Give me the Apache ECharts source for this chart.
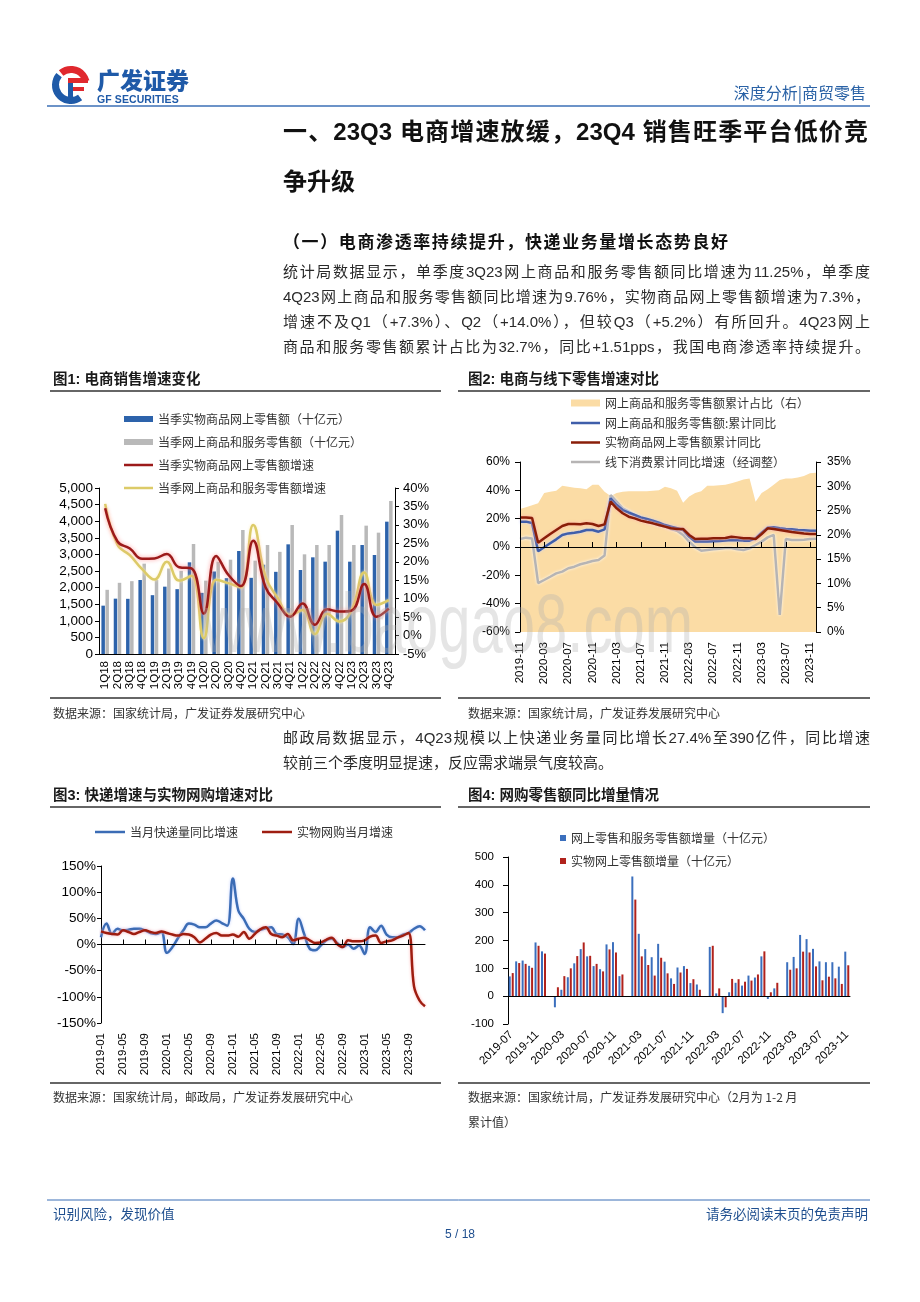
<!DOCTYPE html>
<html><head><meta charset="utf-8">
<script src="https://cdn.jsdelivr.net/npm/echarts@6/dist/echarts.min.js"></script>
<style>
html,body{margin:0;padding:0;background:#fff;}
#page{position:relative;width:920px;height:1302px;overflow:hidden;background:#fff;}
#chart{position:absolute;left:0;top:0;width:920px;height:1302px;}
.t{position:absolute;white-space:nowrap;font-family:"Liberation Sans","Noto Sans CJK SC",sans-serif;color:#222;}
.j{white-space:normal;text-align:justify;text-align-last:justify;}
</style></head>
<body><div id="page"><div id="chart"></div></div>
<script>
// ---------------- DATA ----------------
function months(y, m, n){const out=[];for(let i=0;i<n;i++){const k=m-1+i;out.push((y+Math.floor(k/12))+'-'+String(k%12+1).padStart(2,'0'));}return out;}
const quarters = [];
for (let y=18;y<=23;y++) for (let q=1;q<=4;q++) quarters.push(q+'Q'+y);

// Fig 1 (quarterly, 十亿元 / %)
const q1Physical = [1456,1667,1662,2229,1772,2028,1953,2761,1842,2485,2284,3102,2294,2690,2475,3303,2530,2912,2781,3715,2781,3283,2982,3986];
const q1Total    = [1933,2144,2194,2721,2234,2575,2505,3313,2209,2780,2841,3735,2811,3283,3077,3886,3002,3283,3283,4187,3283,3866,3655,4609];
const q1PhysGrowth  = [34.5,25.5,23.6,20.8,20.9,22.1,18.5,18.2,6.0,21.6,16.4,13.4,25.7,13.1,8.7,5.1,8.7,2.9,7.1,6.5,6.8,14.0,5.1,7.3];
const q1TotalGrowth = [35.7,24.6,21.8,18.0,15.2,20.0,14.9,16.2,-0.7,15.1,14.2,13.1,30.0,16.0,10.1,5.6,6.9,0.4,5.9,3.8,7.0,17.1,8.3,9.6];

// Fig 2 (monthly cumulative, %)
const months2 = months(2019,11,50);
const share2 = [25.3,25.7,26.1,26.5,28.6,28.9,29.1,30.1,29.9,29.7,29.6,29.4,30.3,30.3,28.9,28.0,28.6,28.9,29.0,29.0,29.0,29.0,29.1,29.2,29.9,29.6,29.1,26.6,27.9,28.6,29.0,30.1,30.1,30.2,30.3,30.6,31.0,31.4,31.6,26.8,28.6,29.4,30.3,31.3,31.6,31.6,31.8,32.1,32.7,32.8];
const online2 = [17.9,17.9,17.0,-3.0,-0.2,2.6,5.4,8.5,9.6,10.1,10.8,12.0,12.0,10.8,12.5,34.4,29.6,26.1,24.2,22.6,20.9,19.8,18.6,17.2,15.5,14.4,13.2,12.0,7.3,3.8,3.8,3.8,4.0,4.2,4.5,4.9,4.7,4.5,4.5,6.1,10.1,13.6,13.9,13.2,12.7,12.5,12.0,11.8,11.5,11.5];
const physical2 = [20.9,20.9,20.5,3.0,6.1,9.2,12.0,14.8,16.2,16.2,16.0,16.7,16.2,14.8,16.0,32.0,27.3,23.8,21.4,20.2,18.6,17.6,16.7,15.5,14.4,13.2,12.7,12.7,8.5,5.6,5.9,5.9,6.1,6.1,6.4,7.3,6.8,6.1,6.1,5.6,9.2,13.2,12.7,12.0,11.3,10.6,10.1,9.6,9.2,9.2];
const offline2 = [5.6,6.6,6.0,-25.5,-23.3,-21.0,-18.6,-17.4,-15.0,-13.9,-12.2,-11.1,-9.9,-9.2,-6.0,36.7,32.0,27.3,25.0,22.6,19.5,17.9,16.7,15.5,14.4,12.7,11.5,8.5,3.8,-0.2,-2.6,-2.1,-1.6,-1.2,-0.7,-0.7,-1.6,-2.1,-0.9,1.4,3.8,6.8,8.5,-48.0,5.6,4.9,4.9,5.2,5.6,5.9];

// Fig 3 (monthly, %)
const months3 = months(2019,1,60);
const express3 = [14,40,20,30,27,28,30,30,27,22,20,24,-16,-5,12,27,40,38,33,33,40,46,41,36,126,65,49,30,24,28,31,33,20,19,14,1,49,20,-8,-11,-2,8,11,3,-5,0,-8,-2,-18,33,24,36,19,14,14,19,22,30,35,27];
const onlineShop3 = [25,22,20,19,27,24,20,24,27,24,22,25,22,19,17,20,19,14,4,11,19,22,17,17,19,15,24,11,20,29,33,20,17,14,20,8,11,13,8,3,4,9,13,1,-5,8,6,6,8,15,17,3,6,8,13,17,22,-80,-107,-118];

// Fig 4 (monthly increment, 十亿元)
const months4 = months(2019,7,53);
const onlineInc4 = [71,125,128,109,193,161,null,-40,23,68,118,169,143,108,97,186,194,72,null,430,224,169,140,188,124,64,103,108,47,42,null,177,10,-61,14,48,38,74,67,143,-10,28,null,122,141,220,205,170,125,122,122,106,160];
const physInc4  = [83,119,116,102,181,153,null,32,72,100,144,193,145,116,89,168,157,78,null,347,143,112,74,138,82,44,85,98,61,23,null,181,28,-40,62,61,52,56,78,161,14,48,null,95,100,160,157,107,57,70,64,44,111];

// ---------------- CHART ----------------
const chart = echarts.init(document.getElementById('chart'), null, {renderer:'canvas'});
const AX = {color:'#000', width:1};
const lab = (size, extra) => Object.assign({color:'#000', fontSize:size, fontFamily:'"Liberation Sans",sans-serif'}, extra||{});
const legText = {fontSize:12, lineHeight:14, color:'#333', fontFamily:'"Noto Sans CJK SC",sans-serif'};
const thousands = v => String(v).replace(/\B(?=(\d{3})+(?!\d))/g, ',');
const pct = '{value}%';
const LG = {padding:0, selectedMode:false, textStyle:legText, icon:'rect'};

const option = {
  animation:false,
  textStyle:{fontFamily:'"Liberation Sans","Noto Sans CJK SC",sans-serif'},
  grid:[
    {left:99, top:488, width:296, height:166},
    {left:520, top:462, width:296, height:170},
    {left:101, top:866, width:324, height:157},
    {left:508, top:857, width:342, height:167}
  ],
  legend:[
    Object.assign({}, LG, {orient:'vertical', left:124, top:412, itemWidth:29, itemHeight:6, itemGap:9,
     data:['当季实物商品网上零售额（十亿元）','当季网上商品和服务零售额（十亿元）']}),
    Object.assign({}, LG, {orient:'vertical', left:124, top:458, itemWidth:29, itemHeight:2.5, itemGap:9,
     data:['当季实物商品网上零售额增速','当季网上商品和服务零售额增速']}),
    Object.assign({}, LG, {orient:'vertical', left:571, top:396, itemWidth:29, itemHeight:7,
     data:['网上商品和服务零售额累计占比（右）']}),
    Object.assign({}, LG, {orient:'vertical', left:571, top:416, itemWidth:29, itemHeight:2.5, itemGap:5.5,
     data:['网上商品和服务零售额:累计同比','实物商品网上零售额累计同比','线下消费累计同比增速（经调整）']}),
    Object.assign({}, LG, {left:95, top:825, itemWidth:30, itemHeight:2.5, data:['当月快递量同比增速']}),
    Object.assign({}, LG, {left:262, top:825, itemWidth:30, itemHeight:2.5, data:['实物网购当月增速']}),
    Object.assign({}, LG, {orient:'vertical', left:560, top:831, itemWidth:6, itemHeight:6, itemGap:9,
     data:['网上零售和服务零售额增量（十亿元）','实物网上零售额增量（十亿元）']})
  ],
  xAxis:[
    {gridIndex:0, type:'category', data:quarters, boundaryGap:true, axisLine:{onZero:false, lineStyle:AX},
     axisTick:{length:4, interval:0, lineStyle:AX}, axisLabel:lab(11.5,{rotate:90, interval:0, margin:7})},
    {gridIndex:1, type:'category', data:months2, boundaryGap:false, position:'bottom', axisLine:{show:false, onZero:false},
     axisTick:{show:false}, axisLabel:lab(11.5,{rotate:90, interval:3, margin:10})},
    {gridIndex:1, type:'category', data:months2, boundaryGap:false, z:10, axisLine:{onZero:true, onZeroAxisIndex:2, lineStyle:AX},
     axisTick:{interval:3, length:5, lineStyle:AX}, axisLabel:{show:false}},
    {gridIndex:2, type:'category', data:months3, boundaryGap:false, position:'bottom', axisLine:{show:false, onZero:false},
     axisTick:{show:false}, axisLabel:lab(11.5,{rotate:90, interval:3, margin:10})},
    {gridIndex:2, type:'category', data:months3, boundaryGap:false, z:10, axisLine:{onZero:true, onZeroAxisIndex:4, lineStyle:AX},
     axisTick:{interval:3, length:5, lineStyle:AX}, axisLabel:{show:false}},
    {gridIndex:3, type:'category', data:months4, boundaryGap:true, position:'bottom', axisLine:{show:false, onZero:false},
     axisTick:{show:false}, axisLabel:lab(11.5,{rotate:45, interval:3, margin:9})},
    {gridIndex:3, type:'category', data:months4, boundaryGap:true, z:10, axisLine:{onZero:true, onZeroAxisIndex:5, lineStyle:AX},
     axisTick:{interval:3, length:5, lineStyle:AX}, axisLabel:{show:false}}
  ],
  yAxis:[
    {gridIndex:0, type:'value', min:0, max:5000, interval:500, position:'left', axisLine:{show:true, lineStyle:AX},
     axisTick:{show:true, length:4, lineStyle:AX}, splitLine:{show:false}, axisLabel:lab(13.5,{formatter:thousands, margin:6})},
    {gridIndex:0, type:'value', min:-5, max:40, interval:5, position:'right', axisLine:{show:true, lineStyle:AX},
     axisTick:{show:true, length:4, lineStyle:AX}, splitLine:{show:false}, axisLabel:lab(13,{formatter:pct, margin:8})},
    {gridIndex:1, type:'value', min:-60, max:60, interval:20, position:'left', z:10, axisLine:{show:true, lineStyle:AX},
     axisTick:{show:true, length:5, lineStyle:AX}, splitLine:{show:false}, axisLabel:lab(12,{formatter:pct, margin:10})},
    {gridIndex:1, type:'value', min:0, max:35, interval:5, position:'right', z:10, axisLine:{show:true, lineStyle:AX},
     axisTick:{show:true, length:5, lineStyle:AX}, splitLine:{show:false}, axisLabel:lab(12,{formatter:pct, margin:11})},
    {gridIndex:2, type:'value', min:-150, max:150, interval:50, position:'left', axisLine:{show:true, lineStyle:AX},
     axisTick:{show:true, length:4, lineStyle:AX}, splitLine:{show:false}, axisLabel:lab(13.5,{formatter:pct, margin:5})},
    {gridIndex:3, type:'value', min:-100, max:500, interval:100, position:'left', axisLine:{show:true, lineStyle:AX},
     axisTick:{show:true, length:5, lineStyle:AX}, splitLine:{show:false}, axisLabel:lab(11.5,{margin:14})}
  ],
  series:[
    // Fig 1
    {name:'当季实物商品网上零售额（十亿元）', type:'bar', xAxisIndex:0, yAxisIndex:0, data:q1Physical, barWidth:3.5, barGap:'15%', itemStyle:{color:'#2d63ab'}},
    {name:'当季网上商品和服务零售额（十亿元）', type:'bar', xAxisIndex:0, yAxisIndex:0, data:q1Total, barWidth:3.5, barGap:'15%', itemStyle:{color:'#b9b9b9'}},
    {name:'当季网上商品和服务零售额增速', type:'line', xAxisIndex:0, yAxisIndex:1, data:q1TotalGrowth, smooth:0.45, symbol:'none',
     itemStyle:{color:'#dccb68'}, lineStyle:{width:2.5, color:'#dccb68', shadowBlur:3, shadowColor:'rgba(255,240,190,0.9)'}},
    {name:'当季实物商品网上零售额增速', type:'line', xAxisIndex:0, yAxisIndex:1, data:q1PhysGrowth, smooth:0.45, symbol:'none',
     itemStyle:{color:'#9c1a1a'}, lineStyle:{width:2.5, color:'#9c1a1a', shadowBlur:4, shadowColor:'rgba(255,150,150,0.9)'}},
    // Fig 2
    {name:'网上商品和服务零售额累计占比（右）', type:'line', xAxisIndex:1, yAxisIndex:3, data:share2, symbol:'none', z:1,
     itemStyle:{color:'#fbdca5'}, lineStyle:{width:0, color:'#fbdca5'}, areaStyle:{color:'#fbdca5', opacity:1}},
    {name:'线下消费累计同比增速（经调整）', type:'line', xAxisIndex:1, yAxisIndex:2, data:offline2, symbol:'none',
     itemStyle:{color:'#b6b4b4'}, lineStyle:{width:2.5, color:'#b6b4b4', shadowBlur:3, shadowColor:'rgba(255,255,255,0.9)'}},
    {name:'网上商品和服务零售额:累计同比', type:'line', xAxisIndex:1, yAxisIndex:2, data:online2, symbol:'none',
     itemStyle:{color:'#3f5eaa'}, lineStyle:{width:2.5, color:'#3f5eaa', shadowBlur:3, shadowColor:'rgba(200,210,255,0.9)'}},
    {name:'实物商品网上零售额累计同比', type:'line', xAxisIndex:1, yAxisIndex:2, data:physical2, symbol:'none',
     itemStyle:{color:'#8a1e08'}, lineStyle:{width:2.5, color:'#8a1e08', shadowBlur:3, shadowColor:'rgba(255,170,170,0.9)'}},
    // Fig 3
    {name:'当月快递量同比增速', type:'line', xAxisIndex:3, yAxisIndex:4, data:express3, smooth:0.4, symbol:'none',
     itemStyle:{color:'#3b6cb5'}, lineStyle:{width:2.5, color:'#3b6cb5', shadowBlur:3, shadowColor:'rgba(190,205,255,0.9)'}},
    {name:'实物网购当月增速', type:'line', xAxisIndex:3, yAxisIndex:4, data:onlineShop3, smooth:0.4, symbol:'none',
     itemStyle:{color:'#9e1d10'}, lineStyle:{width:2.5, color:'#9e1d10', shadowBlur:3, shadowColor:'rgba(255,170,170,0.9)'}},
    // Fig 4
    {name:'网上零售和服务零售额增量（十亿元）', type:'bar', xAxisIndex:5, yAxisIndex:5, data:onlineInc4, barWidth:2, barGap:'50%', itemStyle:{color:'#3b6fbd'}},
    {name:'实物网上零售额增量（十亿元）', type:'bar', xAxisIndex:5, yAxisIndex:5, data:physInc4, barWidth:2, barGap:'50%', itemStyle:{color:'#b1221c'}}
  ],
  graphic:{elements:[
    {type:'line', shape:{x1:47,y1:106,x2:870,y2:106}, style:{stroke:'#3b6fb6', lineWidth:1.5}},
    {type:'line', shape:{x1:50,y1:391,x2:441,y2:391}, style:{stroke:'#333', lineWidth:1.3}},
    {type:'line', shape:{x1:458,y1:391,x2:870,y2:391}, style:{stroke:'#333', lineWidth:1.3}},
    {type:'line', shape:{x1:50,y1:698,x2:441,y2:698}, style:{stroke:'#333', lineWidth:1.3}},
    {type:'line', shape:{x1:458,y1:698,x2:870,y2:698}, style:{stroke:'#333', lineWidth:1.3}},
    {type:'line', shape:{x1:50,y1:807,x2:441,y2:807}, style:{stroke:'#333', lineWidth:1.3}},
    {type:'line', shape:{x1:458,y1:807,x2:870,y2:807}, style:{stroke:'#333', lineWidth:1.3}},
    {type:'line', shape:{x1:50,y1:1083,x2:441,y2:1083}, style:{stroke:'#333', lineWidth:1.3}},
    {type:'line', shape:{x1:458,y1:1083,x2:870,y2:1083}, style:{stroke:'#333', lineWidth:1.3}},
    {type:'line', shape:{x1:47,y1:1200,x2:870,y2:1200}, style:{stroke:'#3b6fb6', lineWidth:1}},
    // logo
    {type:'arc', shape:{cx:71, cy:85, r:15.5, startAngle:Math.PI*0.3, endAngle:Math.PI*1.22}, style:{stroke:'#1f5aa8', lineWidth:7, fill:null}},
    {type:'arc', shape:{cx:71, cy:85, r:15.5, startAngle:Math.PI*1.28, endAngle:Math.PI*1.92}, style:{stroke:'#e0282e', lineWidth:7, fill:null}},
    {type:'rect', shape:{x:68, y:78, width:20, height:5}, style:{fill:'#e0282e'}},
    {type:'rect', shape:{x:68, y:83, width:5, height:17}, style:{fill:'#1f5aa8'}},
    {type:'rect', shape:{x:73, y:87, width:11, height:4}, style:{fill:'#e0282e'}}
  ]}
};
chart.setOption(option);

// ---------------- TEXT ----------------
const page = document.getElementById('page');
function txt(t, x, cy, size, o){
  o = o||{};
  const d = document.createElement('div');
  d.className = 't' + (o.j ? ' j' : '');
  d.textContent = t;
  const lh = Math.round(size*1.4);
  d.style.fontSize = size+'px';
  d.style.lineHeight = lh+'px';
  d.style.height = lh+'px';
  d.style.top = (cy - lh/2)+'px';
  if (o.align==='right') { d.style.right = (920-x)+'px'; d.style.textAlign='right'; }
  else if (o.align==='center') { d.style.left='0px'; d.style.width='920px'; d.style.textAlign='center'; }
  else d.style.left = x+'px';
  if (o.w) d.style.width = o.w+'px';
  if (o.b) d.style.fontWeight = o.b;
  if (o.c) d.style.color = o.c;
  if (o.f) d.style.fontFamily = o.f;
  if (o.ls) d.style.letterSpacing = o.ls;
  page.appendChild(d);
  return d;
}
const CJK = '"Noto Sans CJK SC","Liberation Sans",sans-serif';
txt('广发证券', 97, 79, 23, {b:900, c:'#1f5aa8', f:CJK});
txt('GF SECURITIES', 97, 99, 10.5, {b:700, c:'#1f5aa8', ls:'0.1px'});
txt('深度分析|商贸零售', 866, 92, 16, {align:'right', c:'#2a62a6', f:CJK});
txt('一、23Q3 电商增速放缓，23Q4 销售旺季平台低价竞', 283, 132, 24, {b:700, w:585, j:true, c:'#111'});
txt('争升级', 283, 182, 24, {b:700, c:'#111'});
txt('（一）电商渗透率持续提升，快递业务量增长态势良好', 283, 243, 17, {b:700, w:445, j:true, c:'#111'});
const bodyLines = [
  '统计局数据显示，单季度3Q23网上商品和服务零售额同比增速为11.25%，单季度',
  '4Q23网上商品和服务零售额同比增速为9.76%，实物商品网上零售额增速为7.3%，',
  '增速不及Q1（+7.3%）、Q2（+14.0%），但较Q3（+5.2%）有所回升。4Q23网上',
  '商品和服务零售额累计占比为32.7%，同比+1.51pps，我国电商渗透率持续提升。'
];
bodyLines.forEach((l,i)=>txt(l, 283, 271+25*i, 15, {w:587, j:true, c:'#2a2a2a'}));
txt('邮政局数据显示，4Q23规模以上快递业务量同比增长27.4%至390亿件，同比增速', 283, 737, 15, {w:587, j:true, c:'#2a2a2a'});
txt('较前三个季度明显提速，反应需求端景气度较高。', 283, 762, 15, {c:'#2a2a2a'});

txt('图1:  电商销售增速变化', 53, 379, 14.5, {b:700, c:'#1a1a1a'});
txt('图2:  电商与线下零售增速对比', 468, 379, 14.5, {b:700, c:'#1a1a1a'});
txt('图3:  快递增速与实物网购增速对比', 53, 795, 14.5, {b:700, c:'#1a1a1a'});
txt('图4:  网购零售额同比增量情况', 468, 795, 14.5, {b:700, c:'#1a1a1a'});
txt('数据来源：国家统计局，广发证券发展研究中心', 53, 712, 12, {c:'#333', f:CJK});
txt('数据来源：国家统计局，广发证券发展研究中心', 468, 712, 12, {c:'#333', f:CJK});
txt('数据来源：国家统计局，邮政局，广发证券发展研究中心', 53, 1096, 12, {c:'#333', f:CJK});
txt('数据来源：国家统计局，广发证券发展研究中心（2月为 1-2 月', 468, 1096, 12, {c:'#333', f:CJK});
txt('累计值）', 468, 1121, 12, {c:'#333', f:CJK});

txt('识别风险，发现价值', 53, 1213, 13.5, {c:'#1f4f8f', f:CJK});
txt('请务必阅读末页的免责声明', 868, 1213, 13.5, {align:'right', c:'#1f4f8f', f:CJK});
txt('5 / 18', 460, 1234, 12, {align:'center', c:'#1f4f8f'});

// watermark
const wm = document.createElement('div');
wm.className = 't';
wm.textContent = 'www.baogao8.com';
wm.style.cssText += 'left:203px;top:603px;font-size:58px;line-height:58px;color:rgba(175,175,175,0.33);transform:scaleY(1.45);transform-origin:0 49px;';
page.appendChild(wm);
</script>
</body></html>
